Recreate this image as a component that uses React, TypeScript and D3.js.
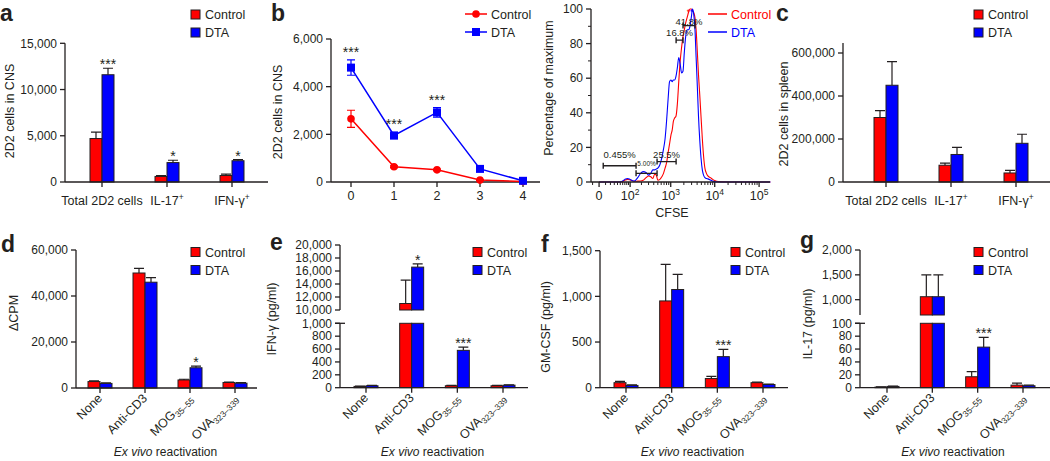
import React from 'react';
import * as d3 from 'd3';

const seriesNames = ['Control', 'DTA'];

// a: 2D2 cells in CNS
const cnsGroups = ['Total 2D2 cells', 'IL-17', 'IFN-γ'];
const cnsGroupSup = ['', '+', '+'];
const cnsControl = [4700, 600, 700];
const cnsControlErr = [700, 100, 150];
const cnsDTA = [11600, 2100, 2300];
const cnsDTAErr = [700, 250, 130];
const cnsStars = ['***', '*', '*'];
const cnsTicks = [0, 5000, 10000, 15000];

// b: time course in CNS
const days = [0, 1, 2, 3, 4];
const dayControl = [2650, 640, 510, 80, 20];
const dayControlErr = [360, 40, 30, 20, 5];
const dayDTA = [4800, 1950, 2920, 550, 50];
const dayDTAErr = [320, 130, 200, 50, 10];
const dayStars = ['***', '***', '***', '', ''];
const dayTicks = [0, 2000, 4000, 6000];

// CFSE histogram
const cfse = [0, 20, 40, 55, 70, 85, 100, 130, 160, 190, 220, 260, 300, 340, 380, 420, 460, 500, 560, 620, 680, 740, 800, 870, 940, 1010, 1080, 1150, 1230, 1320, 1420, 1530, 1650, 1780, 1910, 2050, 2200, 2370, 2550, 2750, 2950, 3150, 3350, 3580, 3800, 4050, 4300, 4600, 4900, 5250, 5600, 6000, 6500, 7000, 8000, 9000, 10000, 12000, 20000, 180000];
const cfseControl = [0, 0, 0, 0, 1.0, 1.5, 1.2, 0.4, 0.5, 0.6, 1.0, 2.5, 3.5, 3.0, 2.0, 4.5, 4.0, 1.0, 1.5, 3.0, 5, 8, 11, 17, 22, 27, 30, 35, 37, 38, 45, 58, 70, 78, 84, 88, 92, 95, 98, 100, 100, 99, 98, 95, 88, 75, 62, 50, 38, 25, 15, 8, 5, 3.5, 2.5, 1.5, 0.8, 0.2, 0, 0];
const cfseDTA = [0, 0, 0, 0.3, 1.5, 2.0, 1.5, 0.5, 2.5, 5.0, 6.0, 5.5, 4.0, 5.0, 7.0, 7.0, 7.5, 8, 10, 14, 19, 25, 35, 48, 58, 59, 58, 59, 59, 61, 66, 72, 68, 63, 64, 75, 84, 88, 88, 90, 95, 100, 97, 88, 72, 55, 38, 24, 14, 7, 4, 2.5, 2, 1.8, 1.2, 0.5, 0.2, 0, 0, 0];
const cfseTicks = [0, 100, 1000, 10000, 100000];
const cfseExp = ['', '2', '3', '4', '5'];
const cfseMinor = [-10, 10, 20, 30, 40, 50, 60, 70, 80, 90, 200, 300, 400, 500, 600, 700, 800, 900, 2000, 3000, 4000, 5000, 6000, 7000, 8000, 9000, 20000, 30000, 40000, 50000, 60000, 70000, 80000, 90000];
const pctTicks = [0, 20, 40, 60, 80, 100];
const pctMinor = [10, 30, 50, 70, 90];
const gateLabels = ['0.455%', '5.00%', '25.5%', '16.8%', '41.8%'];
const gateLo = [6, 145, 480, 1330, 1915];
const gateHi = [145, 480, 1330, 1915, 3590];
const gateLevel = [9.4, 5, 11.8, 82, 90.4];

// c: 2D2 cells in spleen
const spleenControl = [300000, 78000, 42000];
const spleenControlErr = [32000, 10000, 12000];
const spleenDTA = [450000, 128000, 180000];
const spleenDTAErr = [110000, 33000, 42000];
const spleenStars = ['', '', ''];
const spleenTicks = [0, 200000, 400000, 600000];

// d-g: ex vivo reactivation
const stimuli = ['None', 'Anti-CD3', 'MOG', 'OVA'];
const stimuliSub = ['', '', '35–55', '323–339'];

const cpmControl = [2800, 50000, 3500, 2400];
const cpmControlErr = [300, 2000, 300, 200];
const cpmDTA = [2000, 46000, 8800, 2100];
const cpmDTAErr = [200, 2000, 700, 200];
const cpmStars = ['', '', '*', ''];
const cpmTicks = [0, 20000, 40000, 60000];

const ifnControl = [20, 11000, 30, 30];
const ifnControlErr = [5, 3600, 5, 5];
const ifnDTA = [30, 16600, 580, 40];
const ifnDTAErr = [5, 500, 50, 5];
const ifnStars = ['', '*', '***', ''];
const ifnTicksLow = [0, 200, 400, 600, 800, 1000];
const ifnTicksHigh = [10000, 12000, 14000, 16000, 18000, 20000];

const gmControl = [55, 950, 100, 55];
const gmControlErr = [15, 400, 25, 5];
const gmDTA = [25, 1075, 340, 35];
const gmDTAErr = [5, 165, 80, 5];
const gmStars = ['', '', '***', ''];
const gmTicks = [0, 500, 1000, 1500];

const il17Control = [1, 1060, 17, 4];
const il17ControlErr = [0.5, 440, 8, 3];
const il17DTA = [2, 1060, 63, 3];
const il17DTAErr = [0.5, 440, 15, 1];
const il17Stars = ['', '', '***', ''];
const il17TicksLow = [0, 20, 40, 60, 80, 100];
const il17TicksHigh = [1000, 1500, 2000];

const INK = '#231f20';
const RED = '#ff0000';
const BLUE = '#0000ff';
const FONT = "'Liberation Sans', Arial, Helvetica, sans-serif";
const fmt = d3.format(',');

type Seg = { lo: number; hi: number; y0: number; y1: number; ticks: number[] };

function SquareLegend({ x, y }: { x: number; y: number }) {
  return (
    <g>
      {seriesNames.map((s, i) => (
        <g key={s}>
          <rect x={x} y={y + i * 18} width={9} height={9} fill={i ? BLUE : RED} stroke={INK} strokeWidth={1} />
          <text x={x + 14} y={y + i * 18 + 9} fontSize={12.5} fill={INK}>{s}</text>
        </g>
      ))}
    </g>
  );
}

function YTitle({ cx, cy, text }: { cx: number; cy: number; text: string }) {
  return (
    <text transform={`translate(${cx + 5},${cy}) rotate(-90)`} textAnchor="middle" fontSize={12.5} fill={INK}>
      {text}
    </text>
  );
}

function BarPanel(props: {
  axisX: number; axisEnd: number; axisTop: number; segs: Seg[];
  first: number; last: number;
  ctrl: number[]; ctrlErr: number[]; dta: number[]; dtaErr: number[]; stars: string[];
  rotated?: boolean; tickFont?: number;
}) {
  const { axisX, axisEnd, axisTop, segs, first, last, ctrl, ctrlErr, dta, dtaErr, stars, rotated } = props;
  const tickFont = props.tickFont || 12;
  const n = ctrl.length;
  const x = d3.scalePoint<number>().domain(d3.range(n)).range([first, last]);
  const ys = segs.map((s) => d3.scaleLinear().domain([s.lo, s.hi]).range([s.y0, s.y1]));
  const base = segs[0].y0;
  const bw = 12;
  const segOf = (v: number) => {
    let k = 0;
    segs.forEach((s, i) => { if (v >= s.lo) k = i; });
    return k;
  };

  const marks: React.ReactNode[] = [];
  [ctrl, dta].forEach((vals, si) => {
    const errs = si === 0 ? ctrlErr : dtaErr;
    vals.forEach((v, i) => {
      const x0 = (x(i) as number) + (si === 0 ? -bw : 0);
      segs.forEach((s, k) => {
        if (v <= s.lo) return;
        const yt = ys[k](Math.min(v, s.hi));
        const yb = ys[k](s.lo);
        marks.push(
          <rect key={`b${si}-${i}-${k}`} x={x0} y={yt} width={bw} height={Math.max(0.5, yb - yt)}
            fill={si ? BLUE : RED} stroke={INK} strokeWidth={1} />
        );
      });
      const k = segOf(v);
      const yv = ys[k](v);
      const ye = ys[k](v + errs[i]);
      const cx = x0 + bw / 2;
      marks.push(
        <path key={`e${si}-${i}`} d={`M${cx},${yv}V${ye}M${cx - 5},${ye}H${cx + 5}`} stroke={INK} strokeWidth={1.2} fill="none" />
      );
      if (si === 1 && stars[i]) {
        marks.push(
          <text key={`s${i}`} x={cx} y={ye + 1} textAnchor="middle" fontSize={14} fill={INK}>{stars[i]}</text>
        );
      }
    });
  });

  return (
    <g>
      {segs.map((s, k) => {
        const yA = k === 0 ? base : s.y0;
        const yB = k === segs.length - 1 ? axisTop : s.y1;
        return (
          <g key={`ax${k}`}>
            <line x1={axisX} x2={axisX} y1={yA} y2={yB} stroke={INK} strokeWidth={1.3} />
            {s.ticks.map((t) => (
              <g key={t}>
                <line x1={axisX - 5} x2={axisX} y1={ys[k](t)} y2={ys[k](t)} stroke={INK} strokeWidth={1.3} />
                <text x={axisX - 8} y={ys[k](t)} dy="0.35em" textAnchor="end" fontSize={tickFont} fill={INK}>{fmt(t)}</text>
              </g>
            ))}
          </g>
        );
      })}
      {segs.length > 1 && (
        <line x1={axisX - 5} x2={axisX + 5} y1={segs[0].y1} y2={segs[0].y1} stroke={INK} strokeWidth={1.3} />
      )}
      {marks}
      <line x1={axisX} x2={axisEnd} y1={base} y2={base} stroke={INK} strokeWidth={1.3} />
      {d3.range(n).map((i) => (
        <line key={`t${i}`} x1={x(i)} x2={x(i)} y1={base} y2={base + 5} stroke={INK} strokeWidth={1.3} />
      ))}
      {rotated &&
        stimuli.map((c, i) => (
          <text key={c} transform={`translate(${(x(i) as number) + 3},${base + 11}) rotate(-45)`} textAnchor="end" fontSize={12.5} fill={INK}>
            {c}
            {stimuliSub[i] && <tspan dy={3} fontSize={8.5}>{stimuliSub[i]}</tspan>}
          </text>
        ))}
      {rotated && (
        <text x={(first + last) / 2 - 2} y={456} textAnchor="middle" fontSize={12} fill={INK}>
          <tspan fontStyle="italic">Ex vivo</tspan> reactivation
        </text>
      )}
      {!rotated &&
        cnsGroups.map((c, i) => (
          <text key={c} x={x(i)} y={205} textAnchor="middle" fontSize={12.5} fill={INK}>
            {c}
            {cnsGroupSup[i] && <tspan dy={-5} fontSize={8.5}>{cnsGroupSup[i]}</tspan>}
          </text>
        ))}
    </g>
  );
}

function TimeCourse() {
  const x = d3.scaleLinear().domain([0, 4]).range([351, 523]);
  const y = d3.scaleLinear().domain([0, 6000]).range([182, 39]);
  const line = d3.line<number>().x((_, i) => x(days[i])).y((d) => y(d));
  const series = [
    { vals: dayControl, errs: dayControlErr, color: RED },
    { vals: dayDTA, errs: dayDTAErr, color: BLUE },
  ];
  return (
    <g>
      <line x1={331} x2={331} y1={182} y2={39} stroke={INK} strokeWidth={1.3} />
      {dayTicks.map((t) => (
        <g key={t}>
          <line x1={326} x2={331} y1={y(t)} y2={y(t)} stroke={INK} strokeWidth={1.3} />
          <text x={323} y={y(t)} dy="0.35em" textAnchor="end" fontSize={12} fill={INK}>{fmt(t)}</text>
        </g>
      ))}
      <line x1={331} x2={540} y1={182} y2={182} stroke={INK} strokeWidth={1.3} />
      {days.map((d) => (
        <g key={d}>
          <line x1={x(d)} x2={x(d)} y1={182} y2={187} stroke={INK} strokeWidth={1.3} />
          <text x={x(d)} y={200} textAnchor="middle" fontSize={12.5} fill={INK}>{d}</text>
        </g>
      ))}
      {series.map((s, si) => (
        <g key={si}>
          <path d={line(s.vals) || ''} fill="none" stroke={s.color} strokeWidth={1.5} />
          {s.vals.map((v, i) => (
            <path key={`e${i}`} d={`M${x(days[i])},${y(v - s.errs[i])}V${y(v + s.errs[i])}M${x(days[i]) - 4},${y(v - s.errs[i])}h8M${x(days[i]) - 4},${y(v + s.errs[i])}h8`}
              stroke={s.color} strokeWidth={1.2} fill="none" />
          ))}
          {s.vals.map((v, i) =>
            si === 0 ? (
              <circle key={`m${i}`} cx={x(days[i])} cy={y(v)} r={3.8} fill={RED} />
            ) : (
              <rect key={`m${i}`} x={x(days[i]) - 4} y={y(v) - 4} width={8} height={8} fill={BLUE} />
            )
          )}
        </g>
      ))}
      {dayDTA.map((v, i) =>
        dayStars[i] ? (
          <text key={`s${i}`} x={x(days[i])} y={y(v + dayDTAErr[i]) - 3} textAnchor="middle" fontSize={14} fill={INK}>{dayStars[i]}</text>
        ) : null
      )}
      {seriesNames.map((s, i) => (
        <g key={s}>
          <line x1={465} x2={487} y1={14 + i * 18} y2={14 + i * 18} stroke={i ? BLUE : RED} strokeWidth={1.5} />
          {i ? <rect x={472} y={10 + i * 18} width={8} height={8} fill={BLUE} /> : <circle cx={476} cy={14} r={3.8} fill={RED} />}
          <text x={491} y={19 + i * 18} fontSize={12.5} fill={INK}>{s}</text>
        </g>
      ))}
    </g>
  );
}

function Histogram() {
  const x = d3.scaleSymlog().constant(25).domain([-13, 176000]).range([591, 770]);
  const y = d3.scaleLinear().domain([0, 100]).range([182, 9]);
  const line = d3.line<number>().x((_, i) => x(cfse[i])).y((d) => y(d)).curve(d3.curveMonotoneX);
  return (
    <g>
      <path d={line(cfseControl) || ''} fill="none" stroke={RED} strokeWidth={1.1} />
      <path d={line(cfseDTA) || ''} fill="none" stroke={BLUE} strokeWidth={1.1} />
      <line x1={591} x2={591} y1={182} y2={9} stroke={INK} strokeWidth={1.3} />
      {pctTicks.map((t) => (
        <g key={t}>
          <line x1={586} x2={591} y1={y(t)} y2={y(t)} stroke={INK} strokeWidth={1.3} />
          <text x={583} y={y(t)} dy="0.35em" textAnchor="end" fontSize={12} fill={INK}>{t}</text>
        </g>
      ))}
      {pctMinor.map((t) => (
        <line key={t} x1={588} x2={591} y1={y(t)} y2={y(t)} stroke={INK} strokeWidth={1} />
      ))}
      <line x1={591} x2={770} y1={182} y2={182} stroke={INK} strokeWidth={1.3} />
      {cfseMinor.map((t) => (
        <line key={t} x1={x(t)} x2={x(t)} y1={182} y2={185} stroke={INK} strokeWidth={1} />
      ))}
      {cfseTicks.map((t, i) => (
        <g key={t}>
          <line x1={x(t)} x2={x(t)} y1={182} y2={187} stroke={INK} strokeWidth={1.3} />
          <text x={x(t)} y={200} textAnchor="middle" fontSize={12.5} fill={INK}>
            {i === 0 ? '0' : '10'}
            {cfseExp[i] && <tspan dy={-5} fontSize={8.5}>{cfseExp[i]}</tspan>}
          </text>
        </g>
      ))}
      <text x={672} y={217} textAnchor="middle" fontSize={12.5} fill={INK}>CFSE</text>
      {gateLabels.map((g, i) => {
        const x0 = x(gateLo[i]);
        const x1 = x(gateHi[i]);
        const yy = y(gateLevel[i]);
        const small = g === '5.00%';
        const lift = small ? 7 : i === 0 ? 8 : i === 4 ? 1 : 4;
        return (
          <g key={g}>
            <path d={`M${x0},${yy - 3}V${yy + 3}M${x0},${yy}H${x1}M${x1},${yy - 3}V${yy + 3}`} stroke={INK} strokeWidth={1.4} fill="none" />
            <text x={(x0 + x1) / 2} y={yy - lift} textAnchor="middle" fontSize={small ? 6.5 : 9.5} fill={INK}>{g}</text>
          </g>
        );
      })}
      <text x={690} y={14.5} textAnchor="middle" fontSize={8.5}>
        <tspan fill={RED}>*</tspan>
        <tspan fill={BLUE}>*</tspan>
      </text>
      {seriesNames.map((s, i) => (
        <g key={s}>
          <line x1={708} x2={727} y1={14 + i * 18} y2={14 + i * 18} stroke={i ? BLUE : RED} strokeWidth={1.5} />
          <text x={731} y={19 + i * 18} fontSize={12.5} fill={i ? BLUE : RED}>{s}</text>
        </g>
      ))}
    </g>
  );
}

const letters: [string, number, number][] = [
  ['a', 0, 21], ['b', 271, 21], ['c', 776, 21], ['d', 1, 252], ['e', 270, 250], ['f', 541, 252], ['g', 800, 248],
];

export default function App() {
  return (
    <svg width={1050} height={461} style={{ position: 'absolute', left: 0, top: 0, background: '#fff' }} fontFamily={FONT}>
      <rect width={1050} height={461} fill="#fff" />
      {letters.map(([l, x, y]) => (
        <text key={l} x={x} y={y} fontSize={23} fontWeight="bold" fill={INK}>{l}</text>
      ))}

      {/* a */}
      <BarPanel axisX={65} axisEnd={268} axisTop={43.3}
        segs={[{ lo: 0, hi: 15000, y0: 182, y1: 43.3, ticks: cnsTicks }]}
        first={102} last={232} ctrl={cnsControl} ctrlErr={cnsControlErr} dta={cnsDTA} dtaErr={cnsDTAErr} stars={cnsStars} />
      <SquareLegend x={191} y={10} />
      <YTitle cx={9} cy={111} text="2D2 cells in CNS" />

      {/* b */}
      <TimeCourse />
      <YTitle cx={277} cy={112} text="2D2 cells in CNS" />

      {/* histogram */}
      <Histogram />
      <YTitle cx={548} cy={88} text="Percentage of maximum" />

      {/* c */}
      <BarPanel axisX={843} axisEnd={1050} axisTop={43}
        segs={[{ lo: 0, hi: 600000, y0: 182, y1: 53, ticks: spleenTicks }]}
        first={886} last={1016} ctrl={spleenControl} ctrlErr={spleenControlErr} dta={spleenDTA} dtaErr={spleenDTAErr} stars={spleenStars} />
      <SquareLegend x={974} y={10} />
      <YTitle cx={783} cy={114} text="2D2 cells in spleen" />

      {/* d */}
      <BarPanel axisX={76} axisEnd={257} axisTop={250} rotated
        segs={[{ lo: 0, hi: 60000, y0: 388, y1: 250, ticks: cpmTicks }]}
        first={100} last={235} ctrl={cpmControl} ctrlErr={cpmControlErr} dta={cpmDTA} dtaErr={cpmDTAErr} stars={cpmStars} />
      <SquareLegend x={191} y={247.5} />
      <YTitle cx={13} cy={313} text="ΔCPM" />

      {/* e */}
      <BarPanel axisX={340} axisEnd={528} axisTop={245} rotated
        segs={[
          { lo: 0, hi: 1000, y0: 387.7, y1: 323.3, ticks: ifnTicksLow },
          { lo: 10000, hi: 20000, y0: 310, y1: 245, ticks: ifnTicksHigh },
        ]}
        first={366} last={503} ctrl={ifnControl} ctrlErr={ifnControlErr} dta={ifnDTA} dtaErr={ifnDTAErr} stars={ifnStars} />
      <SquareLegend x={473} y={247.5} />
      <YTitle cx={271} cy={319} text="IFN-γ (pg/ml)" />

      {/* f */}
      <BarPanel axisX={600} axisEnd={788} axisTop={250.7} rotated
        segs={[{ lo: 0, hi: 1500, y0: 387.7, y1: 250.7, ticks: gmTicks }]}
        first={626} last={763} ctrl={gmControl} ctrlErr={gmControlErr} dta={gmDTA} dtaErr={gmDTAErr} stars={gmStars} />
      <SquareLegend x={731} y={247.5} />
      <YTitle cx={545} cy={327} text="GM-CSF (pg/ml)" />

      {/* g */}
      <BarPanel axisX={860} axisEnd={1050} axisTop={250} rotated
        segs={[
          { lo: 0, hi: 100, y0: 387.7, y1: 323.3, ticks: il17TicksLow },
          { lo: 692, hi: 2000, y0: 315, y1: 250, ticks: il17TicksHigh },
        ]}
        first={887} last={1023} ctrl={il17Control} ctrlErr={il17ControlErr} dta={il17DTA} dtaErr={il17DTAErr} stars={il17Stars} />
      <SquareLegend x={974} y={247.5} />
      <YTitle cx={807} cy={324} text="IL-17 (pg/ml)" />
    </svg>
  );
}
